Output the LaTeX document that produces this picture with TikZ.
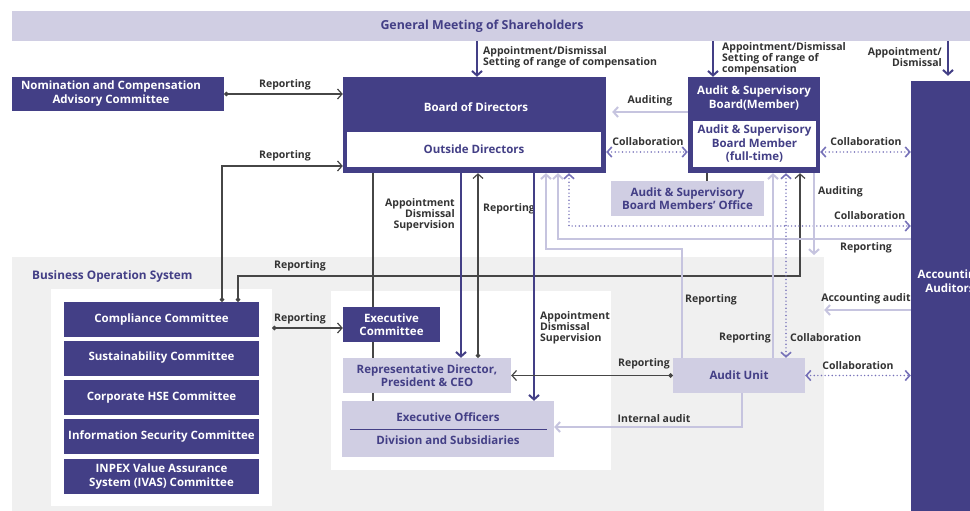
\documentclass[tikz,border=0pt]{standalone}
\usepackage{fontspec}
\setmainfont{Open Sans}
\usetikzlibrary{arrows.meta}

\definecolor{dkpurple}{RGB}{67,63,134}
\definecolor{ltpurple}{RGB}{208,206,227}
\definecolor{lnpurple}{RGB}{198,196,223}
\definecolor{dtpurple}{RGB}{118,113,184}
\definecolor{lblgray}{RGB}{51,51,51}
\definecolor{lngray}{RGB}{70,70,70}
\definecolor{bggray}{RGB}{240,240,240}

\newcommand{\bxfont}{\bfseries\fontsize{11.5}{13.5}\selectfont}
\newcommand{\lbfont}{\bfseries\fontsize{10.5}{11}\selectfont}

\tikzset{
  dkbox/.style={fill=dkpurple, text=white, font=\bxfont, align=center, inner sep=0pt},
  ltbox/.style={fill=ltpurple, text=dkpurple, font=\bxfont, align=center, inner sep=0pt},
  wtbox/.style={fill=white, text=dkpurple, font=\bxfont, align=center, inner sep=0pt},
  dktxt/.style={text=white, font=\bxfont, align=center, inner sep=0pt},
  panel/.style={inner sep=0pt},
  lbl/.style={text=lblgray, font=\lbfont, inner sep=0pt},
  blk/.style={draw=lngray, line width=1.2pt},
  prp/.style={draw=dkpurple, line width=2pt},
  lgt/.style={draw=lnpurple, line width=2pt},
  dtd/.style={draw=dtpurple, line width=1.6pt, dash pattern=on 0pt off 3.6pt, line cap=round},
  >={Straight Barb[length=4.5pt,width=10pt]}
}

\begin{document}
\begin{tikzpicture}[x=1pt, y=-1pt]
  \useasboundingbox (0,0) rectangle (970,511);

  % business operation area
  \node[panel, fill=bggray, minimum width=812, minimum height=254] (bos) at (418,384) {};
  \node[panel, fill=white, minimum width=221, minimum height=217] (wpl) at (161.5,397.5) {};
  \node[panel, fill=white, minimum width=280, minimum height=179] (wpc) at (471,380.5) {};
  \node[text=dkpurple, font=\bfseries\fontsize{11.8}{13}\selectfont, inner sep=0pt, anchor=west] (bost) at (32,276) {Business Operation System};

  % governance boxes
  \node[ltbox, minimum width=958, minimum height=30, font=\bfseries\fontsize{12.4}{14}\selectfont] (gm) at (491,26) {\hspace*{-18pt}General Meeting of Shareholders};
  \node[dkbox, minimum width=212, minimum height=34] (ncac) at (118,94) {\begin{tabular}{@{}c@{}}Nomination and Compensation\\Advisory Committee\end{tabular}\hspace*{14pt}};

  \node[dkbox, minimum width=263, minimum height=96] (bod) at (474.5,125) {};
  \node[dktxt] (bodt) at (476,107) {Board of Directors};
  \node[wtbox, minimum width=254, minimum height=35] (ods) at (474,149.5) {Outside Directors};

  \node[dkbox, minimum width=132, minimum height=96] (asb) at (754,125) {};
  \node[dktxt] (asbt) at (754,98) {Audit \& Supervisory\\Board(Member)};
  \node[wtbox, minimum width=123, minimum height=46] (asbm) at (754.5,144) {Audit \& Supervisory\\Board Member\\(full-time)};
  \node[ltbox, minimum width=153, minimum height=35] (aso) at (687.5,198.5) {Audit \& Supervisory\\Board Members’ Office};

  \node[dkbox, minimum width=78, minimum height=430] (acc) at (950,296) {};
  \node[dktxt] (acct) at (950,281) {Accounting\\Auditors};

  % committees
  \node[dkbox, minimum width=195, minimum height=35] (cc) at (161.5,319.5) {Compliance Committee};
  \node[dkbox, minimum width=195, minimum height=35] (sc) at (161.5,358) {Sustainability Committee};
  \node[dkbox, minimum width=195, minimum height=35] (hse) at (161.5,397.5) {Corporate HSE Committee};
  \node[dkbox, minimum width=195, minimum height=35] (isc) at (161.5,436.5) {Information Security Committee};
  \node[dkbox, minimum width=195, minimum height=35] (ivas) at (161.5,476.5) {INPEX Value Assurance\\System (IVAS) Committee};

  % execution
  \node[dkbox, minimum width=97, minimum height=35] (ec) at (391.5,324.5) {Executive\\Committee};
  \node[ltbox, minimum width=168, minimum height=35] (rd) at (427,375.5) {Representative Director,\\President \& CEO};
  \node[ltbox, minimum width=212, minimum height=56] (eo) at (448,429) {Executive Officers\\[9.5pt]Division and Subsidiaries};
  \draw[dkpurple, line width=1pt] ([xshift=8pt]eo.west) -- ([xshift=-7pt]eo.east);
  \node[ltbox, minimum width=132, minimum height=35] (au) at (739,375.5) {Audit Unit};

  % columns and rows of the connectors
  \coordinate (xgm1) at (477,0);
  \coordinate (xgm2) at (713,0);
  \coordinate (xgm3) at (948,0);
  \coordinate (xcc1) at (222,0);
  \coordinate (xcc2) at (238,0);
  \coordinate (xbd1) at (373,0);
  \coordinate (xbd2) at (461,0);
  \coordinate (xbd3) at (478,0);
  \coordinate (xbd4) at (534,0);
  \coordinate (xbd5) at (546,0);
  \coordinate (xbd6) at (558,0);
  \coordinate (xbd7) at (569,0);
  \coordinate (xoff) at (707,0);
  \coordinate (xau1) at (682,0);
  \coordinate (xau2) at (742,0);
  \coordinate (xab1) at (773,0);
  \coordinate (xab2) at (786,0);
  \coordinate (xab3) at (800,0);
  \coordinate (xab4) at (814,0);
  \coordinate (yau) at (0,112);
  \coordinate (yco) at (0,152);
  \coordinate (yr1) at (0,166);
  \coordinate (yr2) at (0,226);
  \coordinate (yr3) at (0,239);
  \coordinate (yr4) at (0,249);
  \coordinate (yad) at (0,255);
  \coordinate (yr5) at (0,276);
  \coordinate (yr6) at (0,310);
  \coordinate (yr8) at (0,328);
  \coordinate (yr7) at (0,427);

  \draw[prp, ->] (gm.south -| xgm1) -- (bod.north -| xgm1);
  \draw[prp, ->] (gm.south -| xgm2) -- (asb.north -| xgm2);
  \draw[prp, ->, shorten >=5pt] (gm.south -| xgm3) -- (acc.north -| xgm3);
  \node[lbl, anchor=west, align=left] (lgm1) at (483,57.5) {Appointment/Dismissal\\Setting of range of compensation};
  \node[lbl, anchor=west, align=left] (lgm2) at (722,58.5) {Appointment/Dismissal\\Setting of range of\\compensation};
  \node[lbl, anchor=east, align=right] (lgm3) at (942,57) {Appointment/\\Dismissal};

  \draw[blk, {Circle[length=4.5pt]}->] (ncac.east) -- (ncac.east -| bod.west);
  \node[lbl] (lrep1) at (285,85) {Reporting};
  \draw[blk, {Circle[length=4.5pt]}->] (cc.north -| xcc1) |- (bod.west |- yr1);
  \node[lbl] (lrep2) at (285,156) {Reporting};
  \draw[blk, {Circle[length=4.5pt]}->] (cc.north -| xcc2) |- (xab3 |- yr5) -- (asb.south -| xab3);
  \node[lbl] (lrep3) at (300,266) {Reporting};
  \draw[blk, {Circle[length=4.5pt]}->] (wpl.east |- yr8) -- (ec.west |- yr8);
  \node[lbl] (lrep4) at (300,319) {Reporting};

  \draw[blk] (bod.south -| xbd1) -- (ec.north -| xbd1);
  \draw[blk] (ec.south -| xbd1) -- (rd.north -| xbd1);
  \draw[blk] (rd.south -| xbd1) -- (eo.north -| xbd1);
  \draw[prp, ->] (bod.south -| xbd2) -- (rd.north -| xbd2);
  \node[lbl, anchor=east, align=right] (lads1) at (455,214.5) {Appointment\\Dismissal\\Supervision};
  \draw[blk, {Circle[length=4.5pt]}->] (rd.north -| xbd3) -- (bod.south -| xbd3);
  \node[lbl, anchor=west] (lrep5) at (483,209) {Reporting};
  \draw[prp, ->] (bod.south -| xbd4) -- (eo.north -| xbd4);
  \node[lbl, anchor=west, align=left] (lads2) at (540,327.5) {Appointment\\Dismissal\\Supervision};
  \draw[lgt, ->] (au.north -| xau1) |- (xbd5 |- yr4) -- (bod.south -| xbd5);
  \node[lbl, anchor=west] (lrep6) at (685,300) {Reporting};
  \draw[lgt, ->] (acc.west |- yr3) -| (bod.south -| xbd6);
  \node[lbl, anchor=west] (lrep7) at (840,248) {Reporting};
  \draw[dtd, <->] (bod.south -| xbd7) |- (acc.west |- yr2);
  \node[lbl, anchor=west] (lcol1) at (834,216) {Collaboration};

  \draw[lgt, ->, shorten >=6pt] (asb.west |- yau) -- (bod.east |- yau);
  \node[lbl] (laud1) at (650,101) {Auditing};
  \draw[dtd, <->] (bod.east |- yco) -- (asb.west |- yco);
  \node[lbl] (lcol2) at (648,142) {Collaboration};
  \draw[dtd, <->] (asb.east |- yco) -- (acc.west |- yco);
  \node[lbl] (lcol3) at (866,142) {Collaboration};
  \draw[blk] (asb.south -| xoff) -- (aso.north -| xoff);
  \draw[lgt, ->] (asb.south -| xab4) -- (xab4 |- yad);
  \node[lbl, anchor=west] (laud2) at (818,192) {Auditing};

  \draw[lgt, ->] (au.north -| xab1) -- (asb.south -| xab1);
  \node[lbl, anchor=east] (lrep8) at (771,338) {Reporting};
  \draw[dtd, <->] (asb.south -| xab2) -- (au.north -| xab2);
  \node[lbl, anchor=west] (lcol4) at (790,338) {Collaboration};
  \draw[blk, {Circle[length=4.5pt]}->] (au.west) -- (rd.east);
  \node[lbl] (lrep9) at (644,364) {Reporting};
  \draw[lgt, ->] (au.south -| xau2) |- (eo.east |- yr7);
  \node[lbl] (lint) at (654,419) {Internal audit};
  \draw[dtd, <->] (au.east) -- (au.east -| acc.west);
  \node[lbl] (lcol5) at (858,366) {Collaboration};
  \draw[lgt, ->] (acc.west |- yr6) -- (bos.east |- yr6);
  \node[lbl] (lacc) at (866,299) {Accounting audit};
\end{tikzpicture}
\end{document}
